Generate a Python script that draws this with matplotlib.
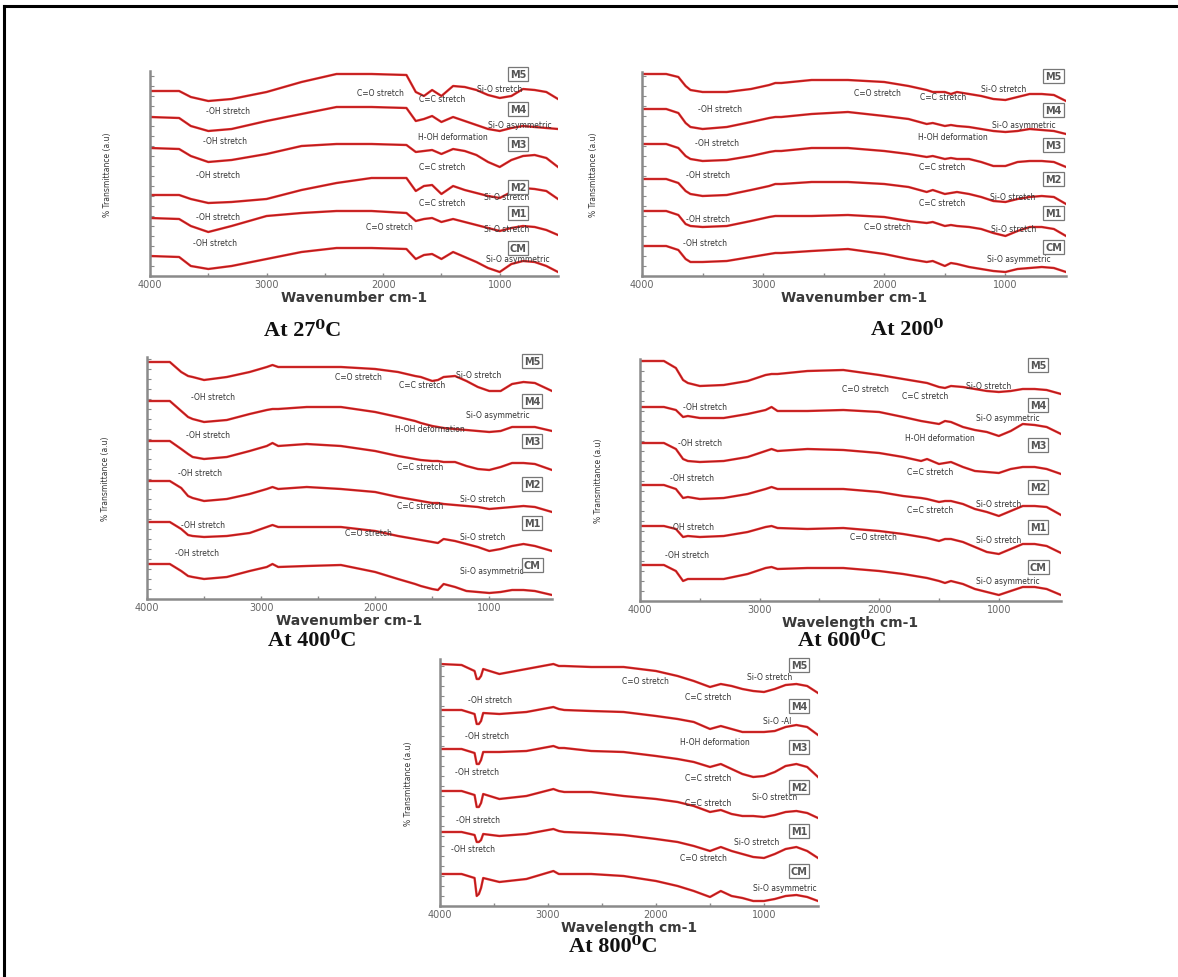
import matplotlib
matplotlib.use('Agg')
import matplotlib.pyplot as plt
from matplotlib.lines import Line2D
from matplotlib.ticker import MultipleLocator, FixedLocator

''' FTIR spectra of the samples (M5..M1, CM) at five temperatures '''

samples = ['M5', 'M4', 'M3', 'M2', 'M1', 'CM']

# ---- 27 C ----
wn_27 = [4000, 3750, 3650, 3500, 3300, 3000, 2700, 2400, 2100, 1800, 1720, 1650,
         1580, 1500, 1400, 1300, 1200, 1100, 1000, 900, 800, 700, 600, 500]
t27_M5 = [185, 185, 179, 175, 177, 184, 194, 202, 202, 201, 184, 180, 186, 180, 190, 189, 186, 181, 178, 180, 187, 186, 184, 177]
t27_M4 = [159, 158, 150, 145, 147, 155, 162, 169, 169, 168, 155, 157, 160, 154, 159, 155, 151, 147, 145, 148, 150, 149, 148, 147]
t27_M3 = [128, 127, 120, 114, 116, 122, 130, 132, 132, 131, 124, 125, 126, 122, 127, 125, 121, 114, 109, 116, 120, 121, 118, 109]
t27_M2 = [81, 81, 77, 73, 74, 77, 86, 93, 98, 98, 85, 90, 91, 82, 90, 86, 83, 80, 78, 84, 88, 87, 85, 77]
t27_M1 = [58, 57, 50, 44, 50, 60, 63, 65, 65, 63, 55, 57, 58, 54, 57, 54, 51, 48, 45, 48, 50, 49, 46, 41]
t27_CM = [20, 19, 10, 7, 10, 17, 24, 28, 28, 27, 17, 21, 22, 17, 24, 19, 14, 8, 4, 12, 15, 14, 10, 4]

# ---- 200 C ----
wn_200 = [4000, 3800, 3700, 3640, 3600, 3500, 3300, 3100, 2950, 2900, 2850, 2600, 2300, 2000, 1800,
          1650, 1600, 1500, 1450, 1400, 1300, 1200, 1100, 1000, 900, 800, 700, 600, 500]
t200_M5 = [202, 202, 199, 190, 186, 184, 184, 187, 191, 193, 193, 196, 196, 194, 190, 186, 184, 184, 182, 184, 182, 180, 177, 176, 179, 182, 182, 181, 175]
t200_M4 = [167, 167, 163, 153, 149, 147, 149, 154, 158, 159, 159, 162, 164, 160, 157, 152, 153, 150, 151, 150, 149, 147, 145, 144, 145, 147, 146, 145, 142]
t200_M3 = [132, 132, 128, 120, 117, 115, 116, 120, 124, 125, 125, 128, 128, 125, 122, 119, 120, 117, 118, 117, 117, 114, 110, 110, 114, 115, 115, 114, 109]
t200_M2 = [97, 97, 93, 85, 82, 80, 81, 86, 90, 92, 92, 94, 94, 92, 89, 84, 86, 82, 83, 84, 82, 79, 75, 74, 77, 79, 80, 79, 72]
t200_M1 = [65, 65, 61, 52, 50, 49, 50, 55, 59, 60, 60, 60, 61, 59, 55, 53, 54, 50, 51, 50, 49, 47, 43, 40, 45, 49, 49, 47, 40]
t200_CM = [30, 30, 26, 17, 14, 14, 15, 19, 22, 23, 23, 25, 27, 22, 17, 14, 15, 10, 13, 12, 9, 7, 5, 4, 7, 8, 9, 8, 4]

# ---- 400 C ----
wn_400 = [4000, 3800, 3700, 3640, 3600, 3500, 3300, 3100, 2950, 2900, 2850, 2600, 2300, 2000, 1800,
          1650, 1600, 1500, 1450, 1400, 1300, 1200, 1100, 1000, 900, 800, 700, 600, 450]
t400_M5 = [237, 237, 227, 223, 222, 219, 222, 227, 232, 234, 232, 232, 232, 230, 227, 223, 222, 218, 219, 222, 223, 218, 212, 208, 208, 215, 217, 216, 208]
t400_M4 = [198, 198, 188, 182, 180, 177, 179, 185, 189, 190, 190, 192, 192, 187, 182, 178, 176, 173, 172, 171, 170, 169, 168, 167, 168, 172, 172, 172, 168]
t400_M3 = [158, 158, 150, 145, 142, 140, 142, 148, 153, 156, 153, 155, 153, 148, 143, 140, 139, 138, 138, 137, 137, 133, 130, 129, 132, 136, 136, 135, 129]
t400_M2 = [118, 118, 111, 103, 101, 98, 100, 105, 110, 112, 110, 112, 110, 107, 102, 99, 98, 96, 96, 95, 94, 93, 92, 90, 91, 92, 93, 92, 87]
t400_M1 = [77, 77, 70, 64, 63, 62, 63, 66, 72, 74, 72, 72, 72, 68, 63, 60, 59, 57, 56, 60, 58, 55, 52, 48, 50, 53, 55, 53, 48]
t400_CM = [35, 35, 28, 23, 22, 20, 22, 28, 32, 35, 32, 33, 34, 27, 20, 15, 13, 10, 9, 15, 12, 8, 7, 6, 7, 9, 9, 8, 4]

# ---- 600 C ----
wn_600 = [4000, 3800, 3700, 3640, 3600, 3500, 3300, 3100, 2950, 2900, 2850, 2600, 2300, 2000, 1800,
          1650, 1600, 1500, 1450, 1400, 1300, 1200, 1100, 1000, 900, 800, 700, 600, 480]
t600_M5 = [240, 240, 233, 221, 218, 215, 216, 220, 226, 227, 227, 230, 231, 226, 222, 219, 218, 214, 213, 215, 214, 212, 210, 209, 210, 212, 212, 211, 207]
t600_M4 = [194, 194, 191, 184, 185, 183, 183, 187, 191, 194, 190, 190, 191, 189, 184, 180, 179, 177, 180, 179, 174, 171, 169, 165, 170, 177, 176, 174, 167]
t600_M3 = [158, 158, 152, 142, 140, 139, 140, 144, 150, 152, 150, 152, 151, 148, 144, 140, 142, 137, 138, 139, 134, 130, 129, 128, 132, 134, 134, 132, 127]
t600_M2 = [116, 116, 112, 103, 104, 102, 103, 107, 112, 114, 112, 112, 112, 109, 105, 103, 102, 99, 100, 100, 97, 92, 89, 85, 90, 95, 95, 94, 86]
t600_M1 = [75, 75, 72, 64, 65, 64, 65, 69, 74, 75, 73, 72, 73, 70, 67, 64, 63, 60, 62, 62, 59, 54, 49, 47, 52, 57, 57, 55, 48]
t600_CM = [36, 36, 30, 20, 22, 22, 22, 27, 33, 34, 32, 33, 33, 30, 27, 24, 23, 20, 18, 20, 17, 12, 9, 6, 10, 14, 14, 12, 6]

# ---- 800 C ----
wn_800 = [4000, 3800, 3680, 3660, 3640, 3620, 3600, 3450, 3200, 2950, 2900, 2850, 2600, 2300,
          2000, 1800, 1650, 1500, 1400, 1300, 1200, 1100, 1000, 900, 800, 700, 600, 500]
t800_M5 = [242, 241, 235, 227, 227, 230, 237, 232, 237, 242, 240, 240, 239, 239, 235, 230, 225, 219, 222, 220, 217, 215, 214, 217, 221, 222, 220, 213]
t800_M4 = [196, 196, 192, 182, 182, 185, 193, 192, 194, 199, 197, 196, 195, 194, 190, 187, 184, 177, 180, 177, 174, 174, 174, 175, 179, 181, 179, 171]
t800_M3 = [157, 157, 153, 142, 142, 146, 154, 154, 155, 160, 158, 158, 155, 154, 150, 147, 144, 139, 142, 137, 132, 129, 130, 134, 140, 142, 139, 129]
t800_M2 = [115, 115, 111, 99, 99, 103, 112, 107, 110, 117, 115, 114, 114, 110, 107, 104, 100, 94, 96, 92, 90, 90, 89, 91, 94, 95, 93, 88]
t800_M1 = [74, 74, 71, 64, 64, 66, 72, 70, 72, 77, 75, 74, 73, 71, 67, 64, 60, 55, 59, 55, 52, 49, 48, 52, 57, 59, 55, 48]
t800_CM = [32, 32, 28, 10, 12, 18, 28, 24, 27, 35, 32, 32, 32, 30, 25, 20, 15, 9, 15, 10, 8, 5, 5, 7, 10, 11, 9, 5]

# band assignments written on the plots: (text, wavenumber, height)
notes_27 = [('C=O stretch', 2027, 184), ('C=C stretch', 1496, 177), ('Si-O stretch', 1000, 187),
            ('-OH stretch', 3331, 165), ('Si-O asymmetric', 827, 152), ('H-OH deformation', 1400, 140),
            ('-OH stretch', 3357, 135), ('-OH stretch', 3417, 102), ('C=C stretch', 1496, 109),
            ('Si-O stretch', 940, 80), ('C=C stretch', 1496, 74), ('-OH stretch', 3417, 59),
            ('C=O stretch', 1942, 50), ('Si-O stretch', 940, 47), ('-OH stretch', 3443, 34),
            ('Si-O asymmetric', 844, 17)]
notes_200 = [('C=O stretch', 2058, 184), ('C=C stretch', 1512, 179), ('Si-O stretch', 1016, 187),
             ('-OH stretch', 3355, 167), ('Si-O asymmetric', 851, 152), ('H-OH deformation', 1430, 140),
             ('-OH stretch', 3380, 134), ('-OH stretch', 3455, 102), ('C=C stretch', 1520, 109),
             ('Si-O stretch', 942, 80), ('C=C stretch', 1520, 74), ('-OH stretch', 3455, 57),
             ('C=O stretch', 1975, 49), ('Si-O stretch', 934, 47), ('-OH stretch', 3479, 33),
             ('Si-O asymmetric', 893, 17)]
notes_400 = [('C=O stretch', 2149, 222), ('C=C stretch', 1588, 215), ('Si-O stretch', 1096, 225),
             ('-OH stretch', 3421, 202), ('Si-O asymmetric', 921, 184), ('H-OH deformation', 1518, 170),
             ('-OH stretch', 3465, 165), ('-OH stretch', 3535, 127), ('C=C stretch', 1605, 133),
             ('Si-O stretch', 1061, 100), ('C=C stretch', 1605, 93), ('-OH stretch', 3509, 75),
             ('C=O stretch', 2061, 66), ('Si-O stretch', 1061, 62), ('-OH stretch', 3561, 46),
             ('Si-O asymmetric', 974, 28)]
notes_600 = [('C=O stretch', 2117, 212), ('C=C stretch', 1615, 205), ('Si-O stretch', 1088, 215),
             ('-OH stretch', 3456, 194), ('Si-O asymmetric', 921, 183), ('H-OH deformation', 1490, 163),
             ('-OH stretch', 3498, 158), ('-OH stretch', 3565, 123), ('C=C stretch', 1573, 129),
             ('Si-O stretch', 1004, 97), ('C=C stretch', 1573, 91), ('-OH stretch', 3565, 74),
             ('C=O stretch', 2050, 64), ('Si-O stretch', 1004, 61), ('-OH stretch', 3607, 46),
             ('Si-O asymmetric', 921, 20)]
notes_800 = [('C=O stretch', 2102, 225), ('Si-O stretch', 944, 229), ('C=C stretch', 1519, 209),
             ('-OH stretch', 3537, 206), ('Si-O -Al', 880, 185), ('H-OH deformation', 1454, 164),
             ('-OH stretch', 3565, 170), ('-OH stretch', 3657, 134), ('C=C stretch', 1519, 128),
             ('Si-O stretch', 898, 109), ('C=C stretch', 1519, 103), ('-OH stretch', 3648, 86),
             ('Si-O stretch', 1065, 64), ('-OH stretch', 3694, 57), ('C=O stretch', 1565, 48),
             ('Si-O asymmetric', 806, 18)]

# boxed sample tags: wavenumber and heights (M5..CM)
tags_27 = (844, [202, 167, 132, 89, 63, 28])
tags_200 = (603, [200, 166, 131, 97, 63, 29])
tags_400 = (623, [238, 198, 158, 115, 76, 34])
tags_600 = (670, [236, 196, 156, 114, 74, 34])
tags_800 = (676, [241, 200, 159, 119, 75, 35])

W, H = 1178, 978
fig = plt.figure(figsize=(W / 100, H / 100), dpi=100)

panels = [
    # title, xlabel, wn, series, notes, tags, (left, top, right, bottom) px, xlim, title pos, ylabel x px
    ('At 27⁰C', 'Wavenumber cm-1', wn_27, [t27_M5, t27_M4, t27_M3, t27_M2, t27_M1, t27_CM],
     notes_27, tags_27, (150, 72, 558, 277), (4000, 500), (303, 331), 112),
    ('At 200⁰', 'Wavenumber cm-1', wn_200, [t200_M5, t200_M4, t200_M3, t200_M2, t200_M1, t200_CM],
     notes_200, tags_200, (642, 73, 1066, 277), (4000, 500), (907, 330), 598),
    ('At 400⁰C', 'Wavenumber cm-1', wn_400, [t400_M5, t400_M4, t400_M3, t400_M2, t400_M1, t400_CM],
     notes_400, tags_400, (147, 358, 552, 600), (4000, 450), (312, 641), 110),
    ('At 600⁰C', 'Wavelength cm-1', wn_600, [t600_M5, t600_M4, t600_M3, t600_M2, t600_M1, t600_CM],
     notes_600, tags_600, (640, 360, 1061, 602), (4000, 480), (842, 641), 603),
    ('At 800⁰C', 'Wavelength cm-1', wn_800, [t800_M5, t800_M4, t800_M3, t800_M2, t800_M1, t800_CM],
     notes_800, tags_800, (440, 660, 818, 907), (4000, 500), (613, 947), 413),
]

for title, xlab, wn, series, notes, tags, box, xlim, tpos, ylx in panels:
    l, t, r, b = box
    ax = fig.add_axes([l / W, 1 - b / H, (r - l) / W, (b - t) / H])
    ax.set_xlim(*xlim)
    ax.set_ylim(0, b - t)

    for vals in series:
        ax.plot(wn, vals, color='#e42a2a', linewidth=1.7, solid_joinstyle='round')
        ax.plot(wn, vals, color='#7a1212', linewidth=0.5, alpha=0.7)

    for text, x, y in notes:
        ax.text(x, y, text, fontsize=5.5, color='#333333', ha='center', va='center', clip_on=False)

    tag_x, tag_y = tags
    for name, y in zip(samples, tag_y):
        ax.text(tag_x, y, name, fontsize=7, fontweight='bold', color='#555555',
                ha='center', va='center', clip_on=False,
                bbox=dict(boxstyle='square,pad=0.2', fc='white', ec='#777777', lw=0.9))

    for side in ['top', 'right']:
        ax.spines[side].set_visible(False)
    for side in ['left', 'bottom']:
        ax.spines[side].set_color('#8a8a8a')
        ax.spines[side].set_linewidth(1.8)

    ax.xaxis.set_major_locator(FixedLocator([4000, 3000, 2000, 1000]))
    ax.xaxis.set_minor_locator(FixedLocator([3500, 2500, 1500]))
    ax.yaxis.set_major_locator(MultipleLocator(10))
    ax.tick_params(axis='y', direction='in', length=3, width=0.8, color='#8a8a8a', labelleft=False)
    ax.tick_params(axis='x', which='both', direction='in', length=2, width=1, color='#8a8a8a',
                   labelsize=7, labelcolor='#666666', pad=2)

    ax.set_xlabel(xlab, fontsize=10, fontweight='bold', color='#3a3a3a', labelpad=1)
    ax.set_ylabel('% Transmittance (a.u)', fontsize=5.5, color='#333333')
    ax.yaxis.set_label_coords((ylx - l) / (r - l), 0.5)

    fig.text(tpos[0] / W, 1 - tpos[1] / H, title, ha='center', va='center', fontsize=16,
             fontweight='bold', color='#111111', family=['Liberation Serif', 'DejaVu Serif'])

# frame lines on the top and left of the page
fig.add_artist(Line2D([4 / W, 1], [1 - 7 / H, 1 - 7 / H], color='black', linewidth=2.2))
fig.add_artist(Line2D([4 / W, 4 / W], [0, 1 - 7 / H], color='black', linewidth=2.2))

fig.savefig('out.png', dpi=100)
